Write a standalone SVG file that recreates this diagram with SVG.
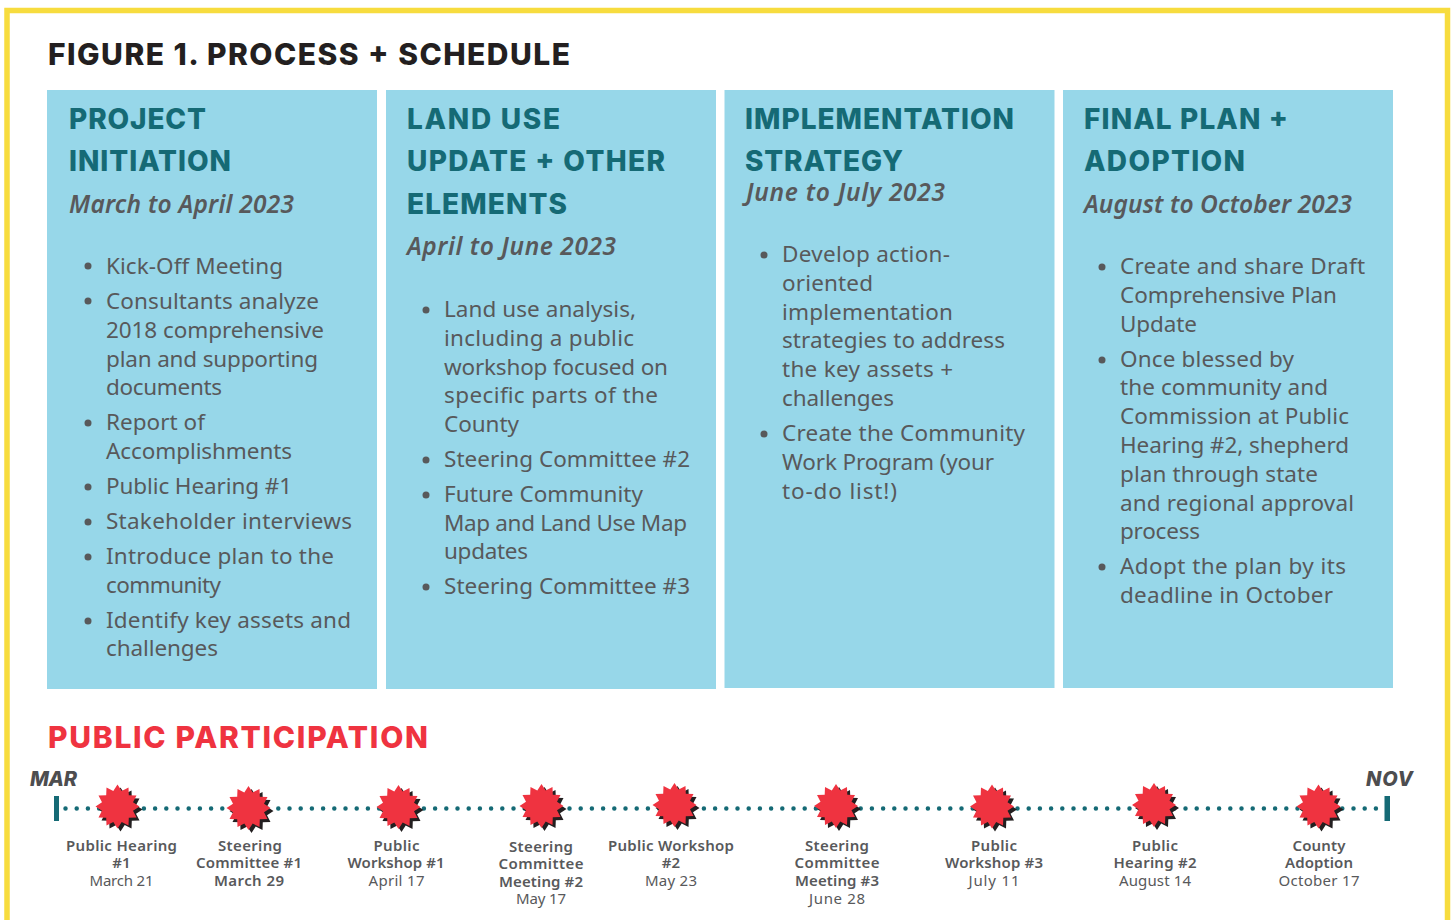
<svg xmlns="http://www.w3.org/2000/svg" xmlns:xlink="http://www.w3.org/1999/xlink" width="1452" height="920" viewBox="0 0 1452 920">
<style>
text{font-family:"Noto Sans","Liberation Sans",sans-serif;fill:#58595b}
.box{fill:#97d7e9}
.t{font-family:Inter,"Liberation Sans",sans-serif;font-weight:800;font-size:30px;fill:#231f20}
.h{font-family:Inter,"Liberation Sans",sans-serif;font-weight:800;font-size:28px;fill:#156a75}
.p{font-family:Inter,"Liberation Sans",sans-serif;font-weight:800;font-size:30px;fill:#ef3340}
.d{font-style:italic;font-weight:600;font-size:24.500px}
.b{font-size:22.500px}
.dot{fill:#58595b}
.m{font-family:Inter,"Liberation Sans",sans-serif;font-style:italic;font-weight:800;font-size:20px;fill:#4d4d4f}
.l{font-size:15px;text-anchor:middle;transform:translateY(-.7px)}
.s{font-weight:600}
</style>
<defs>
<polygon id="star" points="22,0 15.500,4.200 19,11 11.300,11.300 11,19 4.200,15.500 0,22 -4.200,15.500 -11,19 -11.300,11.300 -19,11 -15.500,4.200 -22,0 -15.500,-4.200 -19,-11 -11.300,-11.300 -11,-19 -4.200,-15.500 0,-22 4.200,-15.500 11,-19 11.300,-11.300 19,-11 15.500,-4.200"/>
<g id="burst"><use xlink:href="#star" href="#star" x="3" y="3" fill="#231f20"/><use xlink:href="#star" href="#star" fill="#ef3340"/></g>
</defs>
<rect id="frame" x="7" y="10.500" width="1440.500" height="920" fill="#fff" stroke="#f7dc3e" stroke-width="5.500"/>
<text class="t" x="48" y="65" textLength="522">FIGURE 1. PROCESS + SCHEDULE</text>

<g id="project-initiation">
<rect class="box" x="47" y="90" width="330" height="599"/>
<text class="h" x="69" y="129" textLength="137">PROJECT</text>
<text class="h" x="69" y="171" textLength="162">INITIATION</text>
<text class="d" x="69" y="213" textLength="225">March to April 2023</text>
<g class="b">
<circle class="dot" cx="88" cy="266" r="3.500"/><text x="106" y="274" textLength="177">Kick-Off Meeting</text>
<circle class="dot" cx="88" cy="301" r="3.500"/><text x="106" y="309" textLength="213">Consultants analyze</text>
<text x="106" y="338" textLength="218">2018 comprehensive</text>
<text x="106" y="367" textLength="212">plan and supporting</text>
<text x="106" y="395" textLength="116">documents</text>
<circle class="dot" cx="88" cy="423" r="3.500"/><text x="106" y="430" textLength="99">Report of</text>
<text x="106" y="459" textLength="186">Accomplishments</text>
<circle class="dot" cx="88" cy="487" r="3.500"/><text x="106" y="494" textLength="186">Public Hearing #1</text>
<circle class="dot" cx="88" cy="522" r="3.500"/><text x="106" y="529" textLength="246">Stakeholder interviews</text>
<circle class="dot" cx="88" cy="557" r="3.500"/><text x="106" y="564" textLength="228">Introduce plan to the</text>
<text x="106" y="593" textLength="115">community</text>
<circle class="dot" cx="88" cy="621" r="3.500"/><text x="106" y="628" textLength="245">Identify key assets and</text>
<text x="106" y="656" textLength="112">challenges</text>
</g>
</g>

<g id="land-use-update">
<rect class="box" x="386" y="90" width="330" height="599"/>
<text class="h" x="407" y="129" textLength="153">LAND USE</text>
<text class="h" x="407" y="171" textLength="258">UPDATE + OTHER</text>
<text class="h" x="407" y="214" textLength="160">ELEMENTS</text>
<text class="d" x="407" y="255" textLength="209">April to June 2023</text>
<g class="b">
<circle class="dot" cx="426" cy="310" r="3.500"/><text x="444" y="317" textLength="192">Land use analysis,</text>
<text x="444" y="346" textLength="190">including a public</text>
<text x="444" y="375" textLength="224">workshop focused on</text>
<text x="444" y="403" textLength="214">specific parts of the</text>
<text x="444" y="432" textLength="75">County</text>
<circle class="dot" cx="426" cy="460" r="3.500"/><text x="444" y="467" textLength="246">Steering Committee #2</text>
<circle class="dot" cx="426" cy="495" r="3.500"/><text x="444" y="502" textLength="199">Future Community</text>
<text x="444" y="531" textLength="243">Map and Land Use Map</text>
<text x="444" y="559" textLength="84">updates</text>
<circle class="dot" cx="426" cy="587" r="3.500"/><text x="444" y="594" textLength="246">Steering Committee #3</text>
</g>
</g>

<g id="implementation-strategy">
<rect class="box" x="724.500" y="90" width="330" height="598"/>
<text class="h" x="745" y="129" textLength="269">IMPLEMENTATION</text>
<text class="h" x="745" y="171" textLength="158">STRATEGY</text>
<text class="d" x="746" y="201" textLength="199">June to July 2023</text>
<g class="b">
<circle class="dot" cx="764" cy="255" r="3.500"/><text x="782" y="262" textLength="168">Develop action-</text>
<text x="782" y="291" textLength="91">oriented</text>
<text x="782" y="320" textLength="171">implementation</text>
<text x="782" y="348" textLength="223">strategies to address</text>
<text x="782" y="377" textLength="171">the key assets +</text>
<text x="782" y="406" textLength="112">challenges</text>
<circle class="dot" cx="764" cy="434" r="3.500"/><text x="782" y="441" textLength="243">Create the Community</text>
<text x="782" y="470" textLength="212">Work Program (your</text>
<text x="782" y="499" textLength="115">to-do list!)</text>
</g>
</g>

<g id="final-plan-adoption">
<rect class="box" x="1063" y="90" width="330" height="598"/>
<text class="h" x="1084" y="129" textLength="204">FINAL PLAN +</text>
<text class="h" x="1084" y="171" textLength="161">ADOPTION</text>
<text class="d" x="1084" y="213" textLength="268">August to October 2023</text>
<g class="b">
<circle class="dot" cx="1102" cy="267" r="3.500"/><text x="1120" y="274" textLength="245">Create and share Draft</text>
<text x="1120" y="303" textLength="217">Comprehensive Plan</text>
<text x="1120" y="332" textLength="77">Update</text>
<circle class="dot" cx="1102" cy="360" r="3.500"/><text x="1120" y="367" textLength="174">Once blessed by</text>
<text x="1120" y="395" textLength="208">the community and</text>
<text x="1120" y="424" textLength="229">Commission at Public</text>
<text x="1120" y="453" textLength="229">Hearing #2, shepherd</text>
<text x="1120" y="482" textLength="198">plan through state</text>
<text x="1120" y="511" textLength="234">and regional approval</text>
<text x="1120" y="539" textLength="80">process</text>
<circle class="dot" cx="1102" cy="567" r="3.500"/><text x="1120" y="574" textLength="226">Adopt the plan by its</text>
<text x="1120" y="603" textLength="213">deadline in October</text>
</g>
</g>

<text class="p" x="48" y="748" textLength="380">PUBLIC PARTICIPATION</text>
<text class="m" x="30" y="786" textLength="47">MAR</text>
<text class="m" x="1366" y="786" textLength="47">NOV</text>

<g id="connectors">
<path d="M65.500 808.500H1381" fill="none" stroke="#156a75" stroke-width="4.500" stroke-linecap="round" stroke-dasharray="0 11.200"/>
<rect x="54" y="796" width="5" height="25" fill="#156a75"/>
<rect x="1384.500" y="796" width="5.500" height="25" fill="#156a75"/>
</g>

<g id="e1"><use xlink:href="#burst" href="#burst" x="117.500" y="806.500"/>
<text class="l s" x="121.500" y="852" textLength="111">Public Hearing</text><text class="l s" x="121.500" y="869">#1</text><text class="l" x="121.500" y="887" textLength="64">March 21</text></g>
<g id="e2"><use xlink:href="#burst" href="#burst" x="248.500" y="808"/>
<text class="l s" x="250" y="852" textLength="64">Steering</text><text class="l s" x="249" y="869" textLength="106">Committee #1</text><text class="l s" x="249" y="887" textLength="70">March 29</text></g>
<g id="e3"><use xlink:href="#burst" href="#burst" x="398.500" y="807"/>
<text class="l s" x="396.500" y="852" textLength="46">Public</text><text class="l s" x="396" y="869" textLength="97">Workshop #1</text><text class="l" x="396.500" y="887" textLength="56">April 17</text></g>
<g id="e4"><use xlink:href="#burst" href="#burst" x="541.500" y="806"/>
<text class="l s" x="541" y="853" textLength="64">Steering</text><text class="l s" x="541" y="870" textLength="85">Committee</text><text class="l s" x="541" y="888" textLength="84">Meeting #2</text><text class="l" x="541" y="905" textLength="50">May 17</text></g>
<g id="e5"><use xlink:href="#burst" href="#burst" x="674.500" y="805"/>
<text class="l s" x="671" y="852" textLength="126">Public Workshop</text><text class="l s" x="671" y="869">#2</text><text class="l" x="671" y="887" textLength="52">May 23</text></g>
<g id="e6"><use xlink:href="#burst" href="#burst" x="836" y="806"/>
<text class="l s" x="837" y="852" textLength="64">Steering</text><text class="l s" x="837" y="869" textLength="85">Committee</text><text class="l s" x="837" y="887" textLength="84">Meeting #3</text><text class="l" x="837" y="905" textLength="56">June 28</text></g>
<g id="e7"><use xlink:href="#burst" href="#burst" x="992" y="806.500"/>
<text class="l s" x="994" y="852" textLength="46">Public</text><text class="l s" x="994" y="869" textLength="98">Workshop #3</text><text class="l" x="994" y="887" textLength="51">July 11</text></g>
<g id="e8"><use xlink:href="#burst" href="#burst" x="1154" y="805"/>
<text class="l s" x="1155" y="852" textLength="46">Public</text><text class="l s" x="1155" y="869" textLength="83">Hearing #2</text><text class="l" x="1155" y="887" textLength="72">August 14</text></g>
<g id="e9"><use xlink:href="#burst" href="#burst" x="1318.500" y="806.500"/>
<text class="l s" x="1319" y="852" textLength="53">County</text><text class="l s" x="1319" y="869" textLength="68">Adoption</text><text class="l" x="1319" y="887" textLength="81">October 17</text></g>
</svg>
